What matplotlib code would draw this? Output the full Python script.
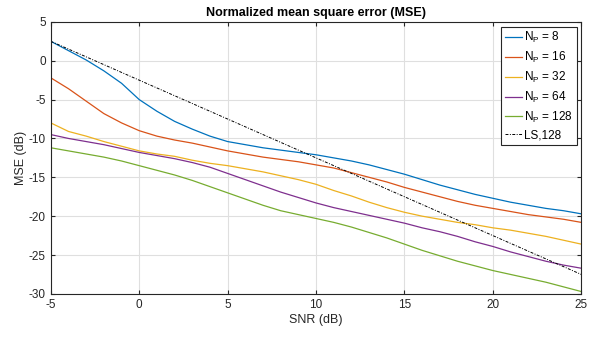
import matplotlib
matplotlib.use('Agg')
import matplotlib.pyplot as plt
import numpy as np

plt.rcParams['font.family'] = ['Liberation Sans', 'DejaVu Sans']
plt.rcParams['mathtext.default'] = 'regular'
plt.rcParams['axes.unicode_minus'] = False

snr_db = [-5, -4, -3, -2, -1, 0, 1, 2, 3, 4, 5, 6, 7, 8, 9, 10,
          11, 12, 13, 14, 15, 16, 17, 18, 19, 20, 21, 22, 23, 24, 25]

mse_np8 = [2.5, 1.3, 0.1, -1.3, -2.9, -5.0, -6.5, -7.8, -8.8, -9.7, -10.4,
           -10.8, -11.2, -11.5, -11.8, -12.1, -12.5, -12.9, -13.4, -14.0, -14.6,
           -15.3, -16.0, -16.6, -17.2, -17.7, -18.2, -18.6, -19.0, -19.3, -19.7]
mse_np16 = [-2.2, -3.6, -5.2, -6.8, -8.0, -9.0, -9.7, -10.2, -10.6, -11.1, -11.6,
            -12.0, -12.4, -12.7, -13.0, -13.4, -13.8, -14.4, -15.0, -15.6, -16.3,
            -16.9, -17.5, -18.1, -18.6, -19.0, -19.4, -19.8, -20.1, -20.4, -20.8]
mse_np32 = [-8.0, -9.1, -9.7, -10.4, -11.0, -11.6, -12.0, -12.3, -12.8, -13.2, -13.5,
            -13.9, -14.3, -14.8, -15.3, -15.9, -16.7, -17.4, -18.2, -18.9, -19.5,
            -20.0, -20.4, -20.8, -21.1, -21.5, -21.8, -22.2, -22.6, -23.1, -23.6]
mse_np64 = [-9.5, -10.0, -10.4, -10.8, -11.3, -11.8, -12.2, -12.6, -13.1, -13.7, -14.5,
            -15.3, -16.1, -16.9, -17.6, -18.3, -18.9, -19.4, -19.9, -20.4, -20.9,
            -21.5, -22.0, -22.6, -23.3, -23.9, -24.6, -25.2, -25.8, -26.3, -26.7]
mse_np128 = [-11.2, -11.6, -12.0, -12.4, -12.9, -13.5, -14.1, -14.7, -15.4, -16.2, -17.0,
             -17.8, -18.6, -19.3, -19.8, -20.3, -20.8, -21.4, -22.1, -22.8, -23.6,
             -24.4, -25.1, -25.8, -26.4, -27.0, -27.5, -28.0, -28.5, -29.1, -29.7]
mse_ls128 = [2.5, 1.5, 0.5, -0.5, -1.5, -2.5, -3.5, -4.5, -5.5, -6.5, -7.5,
             -8.5, -9.5, -10.5, -11.5, -12.5, -13.5, -14.5, -15.5, -16.5, -17.5,
             -18.5, -19.5, -20.5, -21.5, -22.5, -23.5, -24.5, -25.5, -26.5, -27.5]

series = [
    (mse_np8, '#0072BD', 'N$_P$ = 8'),
    (mse_np16, '#D95319', 'N$_P$ = 16'),
    (mse_np32, '#EDB120', 'N$_P$ = 32'),
    (mse_np64, '#7E2F8E', 'N$_P$ = 64'),
    (mse_np128, '#77AC30', 'N$_P$ = 128'),
]

fig = plt.figure(figsize=(5.98, 3.37), dpi=100)
ax = fig.add_axes([0.085, 0.128, 0.887, 0.807])

for vals, color, label in series:
    ax.plot(snr_db, vals, color=color, linewidth=0.9, label=label)
ax.plot(snr_db, mse_ls128, color='black', linestyle=(0, (3, 1.5, 1, 1.5)),
        linewidth=0.7, label='LS,128')

ax.set_xlim(-5, 25)
ax.set_ylim(-30, 5)
ax.set_xticks(np.arange(-5, 26, 5))
ax.set_yticks(np.arange(-30, 6, 5))
ax.grid(True, color='#dfdfdf', linewidth=0.8)
ax.set_axisbelow(True)
ax.tick_params(direction='in', top=True, right=True, labelsize=8.5,
               length=3, color='#262626', labelcolor='#262626')
for sp in ax.spines.values():
    sp.set_color('#262626')
    sp.set_linewidth(0.8)

ax.set_xlabel('SNR (dB)', fontsize=9, color='#262626', labelpad=2)
ax.set_ylabel('MSE (dB)', fontsize=9, color='#262626', labelpad=1)
ax.set_title('Normalized mean square error (MSE)', fontsize=9,
             fontweight='bold', pad=4)

leg = ax.legend(loc='upper right', fontsize=8.5, handlelength=1.5,
                handletextpad=0.15, borderpad=0.3, labelspacing=0.4,
                fancybox=False, framealpha=1, edgecolor='#262626',
                borderaxespad=0.4)
leg.get_frame().set_linewidth(0.8)

fig.savefig('out.png', dpi=100)
